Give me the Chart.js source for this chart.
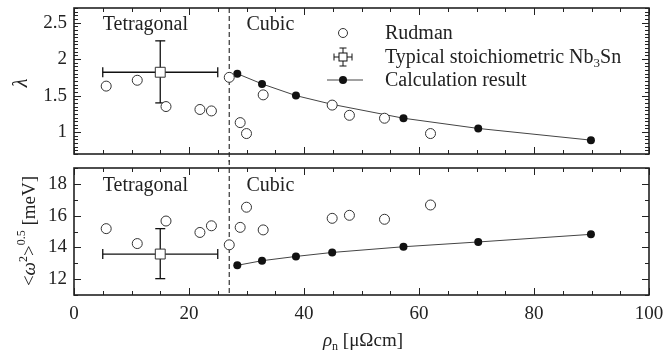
<!DOCTYPE html>
<html>
<head>
<meta charset="utf-8">
<script src="https://cdn.jsdelivr.net/npm/chart.js@4.4.1/dist/chart.umd.min.js"></script>
<style>
  html, body { margin: 0; padding: 0; background: #fff; }
  #wrap { position: relative; width: 672px; height: 353px; }
  #top { position: absolute; left: 0; top: 0; }
  #bot { position: absolute; left: 0; top: 160px; }
</style>
</head>
<body>
<div id="wrap">
  <canvas id="top" width="672" height="162"></canvas>
  <canvas id="bot" width="672" height="193"></canvas>
</div>
<script>
// --- data ---
const rhoRudman = [5.6, 11.0, 16.0, 21.9, 23.9, 27.0, 28.9, 30.0, 32.9, 44.9, 47.9, 54.0, 62.0];
const lambdaRudman = [1.63, 1.71, 1.35, 1.31, 1.29, 1.75, 1.13, 0.98, 1.51, 1.37, 1.23, 1.19, 0.98];
const omegaRudman = [15.18, 14.24, 15.66, 14.94, 15.36, 14.16, 15.26, 16.53, 15.10, 15.83, 16.02, 15.77, 16.67];

const rhoCalc = [28.4, 32.7, 38.6, 44.9, 57.3, 70.3, 89.9];
const lambdaCalc = [1.80, 1.66, 1.50, 1.38, 1.19, 1.05, 0.89];
const omegaCalc = [12.87, 13.16, 13.43, 13.68, 14.04, 14.34, 14.82];

// typical stoichiometric Nb3Sn with error range
const rhoStoich = 15.0;
const rhoStoichRange = [5.0, 25.0];
const lambdaStoich = 1.82;
const lambdaStoichRange = [1.40, 2.25];
const omegaStoich = 13.58;
const omegaStoichRange = [12.03, 15.18];

const phaseBoundary = 27.0;

const xTicks = [0, 20, 40, 60, 80, 100];
const lambdaTicks = [1, 1.5, 2, 2.5];
const omegaTicks = [12, 14, 16, 18];

const serif = '"Liberation Serif", "Times New Roman", serif';
const ink = '#222';

function pts(xs, ys) {
  return xs.map((x, i) => ({ x: x, y: ys[i] }));
}

function richText(ctx, parts, x, y, opts) {
  opts = opts || {};
  ctx.save();
  ctx.translate(x, y);
  if (opts.rotate) ctx.rotate(-Math.PI / 2);
  let total = 0;
  parts.forEach(p => { ctx.font = p.font; p.w = ctx.measureText(p.text).width; total += p.w; });
  let cx = opts.align === 'left' ? 0 : -total / 2;
  ctx.textBaseline = 'alphabetic';
  ctx.textAlign = 'left';
  ctx.fillStyle = ink;
  parts.forEach(p => {
    ctx.font = p.font;
    ctx.fillText(p.text, cx, p.dy || 0);
    cx += p.w;
  });
  ctx.restore();
}

function line(ctx, x1, y1, x2, y2) {
  ctx.beginPath();
  ctx.moveTo(x1, y1);
  ctx.lineTo(x2, y2);
  ctx.stroke();
}

// dashed phase boundary + error bars, under the points
const underPlugin = {
  id: 'under',
  beforeDatasetsDraw(chart, args, opts) {
    const ctx = chart.ctx;
    const xs = chart.scales.x, ys = chart.scales.y;
    const area = chart.chartArea;
    ctx.save();
    // phase boundary
    const bx = xs.getPixelForValue(phaseBoundary);
    ctx.strokeStyle = '#333';
    ctx.lineWidth = 1.2;
    ctx.setLineDash([5, 3]);
    line(ctx, bx, opts.dashFrom === 'canvas' ? 0 : area.top, bx, opts.dashTo === 'canvas' ? chart.height : area.bottom);
    ctx.setLineDash([]);
    // error bars
    const e = opts.err;
    const cx = xs.getPixelForValue(e.x), cy = ys.getPixelForValue(e.y);
    const x1 = xs.getPixelForValue(e.xr[0]), x2 = xs.getPixelForValue(e.xr[1]);
    const y1 = ys.getPixelForValue(e.yr[0]), y2 = ys.getPixelForValue(e.yr[1]);
    ctx.strokeStyle = '#111';
    ctx.lineWidth = 1.3;
    line(ctx, x1, cy, x2, cy);
    line(ctx, cx, y1, cx, y2);
    line(ctx, x1, cy - 5, x1, cy + 5);
    line(ctx, x2, cy - 5, x2, cy + 5);
    line(ctx, cx - 5, y1, cx + 5, y1);
    line(ctx, cx - 5, y2, cx + 5, y2);
    ctx.restore();
  }
};

// frame with inward ticks, labels and titles
const framePlugin = {
  id: 'frame',
  afterDraw(chart, args, opts) {
    const ctx = chart.ctx;
    const xs = chart.scales.x, ys = chart.scales.y;
    const { left, right, top, bottom } = chart.chartArea;
    ctx.save();
    ctx.strokeStyle = ink;
    ctx.lineWidth = 1;
    const nx = Math.round((xs.max - xs.min) / opts.xMinor);
    for (let i = 0; i <= nx; i++) {
      const v = xs.min + i * opts.xMinor;
      const px = Math.round(xs.getPixelForValue(v)) + 0.5;
      const len = xTicks.includes(v) ? 7 : 4;
      line(ctx, px, bottom, px, bottom - len);
      line(ctx, px, top, px, top + len);
    }
    const ny = Math.round((ys.max - ys.min) / opts.yMinor);
    for (let i = 0; i <= ny; i++) {
      const v = +(ys.min + i * opts.yMinor).toFixed(4);
      const py = Math.round(ys.getPixelForValue(v)) + 0.5;
      const len = opts.yMajor.includes(v) ? 7 : 4;
      line(ctx, left, py, left + len, py);
      line(ctx, right, py, right - len, py);
    }
    ctx.lineWidth = 1.6;
    ctx.strokeRect(left, top, right - left, bottom - top);

    // region labels
    ctx.fillStyle = ink;
    ctx.font = '20px ' + serif;
    ctx.textAlign = 'left';
    ctx.textBaseline = 'alphabetic';
    opts.labels.forEach(l => {
      ctx.fillText(l.text, xs.getPixelForValue(l.x), ys.getPixelForValue(l.y));
    });
    ctx.restore();

    if (opts.yTitle) richText(ctx, opts.yTitle.parts, opts.yTitle.x, opts.yTitle.y, { rotate: true });
    if (opts.xTitle) richText(ctx, opts.xTitle.parts, opts.xTitle.x, opts.xTitle.y);
    if (opts.legend) opts.legend(ctx);
  }
};

function drawLegend(ctx) {
  ctx.save();
  ctx.strokeStyle = '#333';
  ctx.lineWidth = 1;
  // Rudman
  ctx.fillStyle = '#fff';
  ctx.beginPath();
  ctx.arc(343, 33, 4.5, 0, Math.PI * 2);
  ctx.fill();
  ctx.stroke();
  // stoichiometric
  ctx.strokeStyle = '#111';
  line(ctx, 334, 57, 352, 57);
  line(ctx, 343, 48, 343, 66);
  line(ctx, 334, 53.5, 334, 60.5);
  line(ctx, 352, 53.5, 352, 60.5);
  line(ctx, 339.5, 48, 346.5, 48);
  line(ctx, 339.5, 66, 346.5, 66);
  ctx.fillStyle = '#fff';
  ctx.fillRect(339, 53, 8, 8);
  ctx.strokeRect(339, 53, 8, 8);
  // calc
  ctx.strokeStyle = '#444';
  line(ctx, 327, 80, 363, 80);
  ctx.fillStyle = '#111';
  ctx.beginPath();
  ctx.arc(343, 80, 4, 0, Math.PI * 2);
  ctx.fill();
  ctx.restore();

  const f = '20px ' + serif;
  richText(ctx, [{ text: 'Rudman', font: f }], 385, 39, { align: 'left' });
  richText(ctx, [
    { text: 'Typical stoichiometric Nb', font: f },
    { text: '3', font: '13px ' + serif, dy: 4 },
    { text: 'Sn', font: f }
  ], 385, 63, { align: 'left' });
  richText(ctx, [{ text: 'Calculation result', font: f }], 385, 86, { align: 'left' });
}

function makeConfig(yVals, calcVals, stoichY, stoichRange, yMin, yMax, yTickVals, yMinor, showX, extra) {
  return {
    type: 'scatter',
    data: {
      datasets: [
        {
          label: 'Rudman',
          data: pts(rhoRudman, yVals),
          order: 0,
          pointStyle: 'circle',
          pointRadius: 5,
          pointBackgroundColor: '#fff',
          pointBorderColor: '#333',
          pointBorderWidth: 1
        },
        {
          label: 'Typical stoichiometric Nb3Sn',
          data: [{ x: rhoStoich, y: stoichY }],
          order: 1,
          pointStyle: 'rect',
          pointRadius: 7,
          pointBackgroundColor: '#fff',
          pointBorderColor: '#333',
          pointBorderWidth: 1
        },
        {
          label: 'Calculation result',
          data: pts(rhoCalc, calcVals),
          order: 2,
          showLine: true,
          borderColor: '#444',
          borderWidth: 1,
          pointRadius: 4,
          pointBackgroundColor: '#111',
          pointBorderColor: '#111',
          pointBorderWidth: 0
        }
      ]
    },
    options: {
      responsive: false,
      animation: false,
      devicePixelRatio: 1,
      layout: { padding: extra.padding },
      scales: {
        x: {
          type: 'linear',
          min: 0,
          max: 100,
          display: showX,
          afterBuildTicks: s => { s.ticks = xTicks.map(v => ({ value: v })); },
          afterFit: s => {
            if (showX) s.height = 58;
            s.paddingLeft = 0;
            s.paddingRight = 0;
          },
          grid: { display: false, drawTicks: false },
          border: { display: false },
          ticks: { color: ink, font: { family: serif, size: 19 }, padding: 8, maxRotation: 0 }
        },
        y: {
          type: 'linear',
          min: yMin,
          max: yMax,
          afterBuildTicks: s => { s.ticks = yTickVals.map(v => ({ value: v })); },
          afterFit: s => {
            s.width = 74;
            s.paddingTop = 0;
            s.paddingBottom = 0;
          },
          grid: { display: false, drawTicks: false },
          border: { display: false },
          ticks: { color: ink, font: { family: serif, size: 19 }, padding: 7, callback: v => String(v) }
        }
      },
      plugins: {
        legend: { display: false },
        tooltip: { enabled: false },
        under: {
          err: { x: rhoStoich, y: stoichY, xr: rhoStoichRange, yr: stoichRange },
          dashFrom: extra.dashFrom,
          dashTo: extra.dashTo
        },
        frame: {
          xMinor: 5,
          yMinor: yMinor,
          yMajor: yTickVals,
          labels: extra.labels,
          yTitle: extra.yTitle,
          xTitle: extra.xTitle,
          legend: extra.legend
        }
      }
    },
    plugins: [underPlugin, framePlugin]
  };
}

const big = '19px ' + serif;
const small = '12px ' + serif;

new Chart(document.getElementById('top'), makeConfig(
  lambdaRudman, lambdaCalc, lambdaStoich, lambdaStoichRange,
  0.7, 2.7, lambdaTicks, 0.05, false,
  {
    padding: { left: 0, right: 23, top: 8, bottom: 3 },
    dashFrom: 'area',
    dashTo: 'canvas',
    labels: [{ text: 'Tetragonal', x: 5.0, y: 2.40 }, { text: 'Cubic', x: 30.0, y: 2.40 }],
    yTitle: { x: 27, y: 83, parts: [{ text: 'λ', font: 'italic 20px ' + serif }] },
    legend: drawLegend
  }
));

new Chart(document.getElementById('bot'), makeConfig(
  omegaRudman, omegaCalc, omegaStoich, omegaStoichRange,
  11, 19, omegaTicks, 1, true,
  {
    padding: { left: 0, right: 23, top: 3, bottom: 0 },
    dashFrom: 'canvas',
    dashTo: 'area',
    labels: [{ text: 'Tetragonal', x: 5.0, y: 17.54 }, { text: 'Cubic', x: 30.0, y: 17.54 }],
    yTitle: {
      x: 35, y: 71, parts: [
        { text: '<', font: big },
        { text: 'ω', font: 'italic ' + big },
        { text: '2', font: small, dy: -8 },
        { text: '>', font: big },
        { text: '0.5', font: small, dy: -10 },
        { text: ' [meV]', font: big }
      ]
    },
    xTitle: {
      x: 363, y: 186, parts: [
        { text: 'ρ', font: 'italic ' + big },
        { text: 'n', font: small, dy: 4 },
        { text: ' [μΩcm]', font: big }
      ]
    }
  }
));
</script>
</body>
</html>
